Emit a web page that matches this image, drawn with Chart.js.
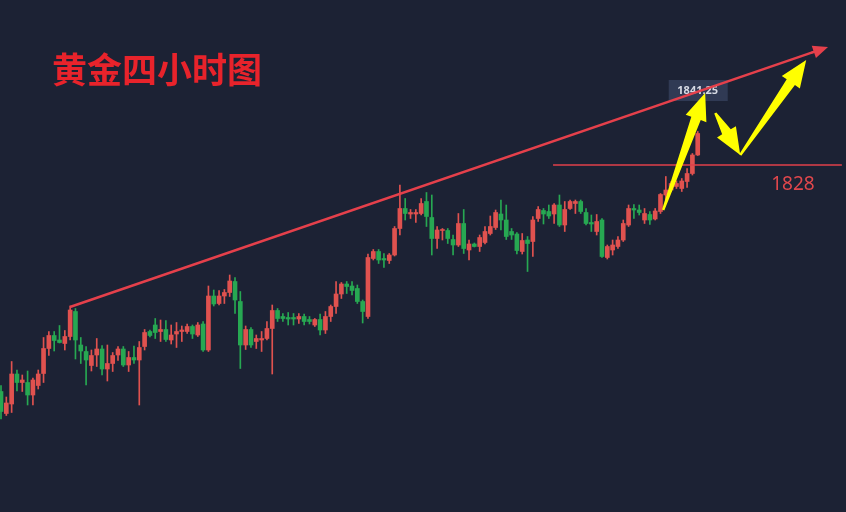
<!DOCTYPE html>
<html>
<head>
<meta charset="utf-8">
<title>黄金四小时图</title>
<script src="https://cdn.jsdelivr.net/npm/chart.js@4.4.1/dist/chart.umd.min.js"></script>
<style>
  html, body { margin: 0; padding: 0; background: #1c2234; }
  #wrap { width: 846px; height: 512px; }
</style>
</head>
<body>
<div id="wrap"><canvas id="goldChart" width="846" height="512"></canvas></div>
<script>
// CANDLE DATA (4h bars, oldest first)

const opens = [
  1782.7, 1778.3, 1780.2, 1786.2, 1784.5, 1784.5, 1782.0, 1783.9, 1786.3, 1791.3,
  1793.9, 1793.0, 1792.3, 1793.7, 1798.7, 1792.0, 1790.7, 1787.9, 1790.0, 1791.2,
  1787.2, 1788.3, 1790.0, 1791.2, 1788.0, 1789.5, 1789.0, 1791.7, 1794.7, 1796.0,
  1794.7, 1795.1, 1793.0, 1794.2, 1794.7, 1794.7, 1795.7, 1794.0, 1796.2, 1791.0,
  1801.8, 1800.3, 1801.8, 1802.5, 1804.7, 1800.7, 1792.0, 1795.1, 1792.7, 1793.0,
  1793.3, 1795.3, 1798.9, 1797.7, 1797.5, 1797.5, 1797.2, 1797.7, 1797.1, 1796.0,
  1797.1, 1795.0, 1797.7, 1799.7, 1802.2, 1804.2, 1803.8, 1803.3, 1800.7, 1797.7,
  1809.3, 1810.7, 1809.3, 1808.9, 1810.0, 1815.3, 1819.3, 1818.2, 1818.2, 1818.3,
  1820.7, 1817.5, 1813.3, 1814.9, 1814.9, 1813.1, 1812.0, 1816.3, 1811.0, 1812.2,
  1811.7, 1812.5, 1814.3, 1815.5, 1818.2, 1817.0, 1814.7, 1814.2, 1810.7, 1813.0,
  1812.7, 1817.3, 1818.9, 1818.7, 1818.2, 1820.0, 1816.0, 1819.3, 1820.3, 1820.7,
  1818.5, 1816.5, 1814.7, 1817.0, 1809.5, 1811.0, 1811.7, 1813.0, 1816.0, 1819.3,
  1819.0, 1817.0, 1818.1, 1817.2, 1818.7, 1822.0, 1823.0, 1823.7, 1823.3, 1824.7,
  1826.3, 1830.0
];
const highs = [
  1783.9, 1781.6, 1788.7, 1787.0, 1786.0, 1786.8, 1785.4, 1787.0, 1793.5, 1794.7,
  1794.7, 1795.9, 1794.9, 1799.8, 1799.3, 1793.5, 1791.7, 1791.0, 1793.3, 1791.9,
  1792.0, 1790.5, 1791.7, 1791.7, 1790.7, 1791.8, 1792.7, 1795.1, 1795.0, 1797.3,
  1797.0, 1796.9, 1796.0, 1796.5, 1795.8, 1796.2, 1796.0, 1796.5, 1796.7, 1803.8,
  1803.0, 1802.9, 1803.1, 1806.0, 1805.5, 1802.7, 1795.8, 1795.5, 1794.0, 1794.7,
  1796.7, 1800.0, 1799.3, 1798.3, 1798.5, 1798.3, 1798.3, 1798.2, 1797.7, 1797.3,
  1798.2, 1798.7, 1800.0, 1804.7, 1804.5, 1804.7, 1804.7, 1804.0, 1801.0, 1810.2,
  1811.1, 1811.1, 1810.3, 1810.3, 1815.7, 1824.0, 1821.3, 1819.1, 1819.1, 1821.3,
  1822.5, 1822.0, 1815.7, 1815.3, 1815.3, 1814.0, 1818.3, 1819.1, 1813.0, 1812.4,
  1814.0, 1815.7, 1817.8, 1819.0, 1821.0, 1820.0, 1815.3, 1814.5, 1814.3, 1813.7,
  1817.7, 1819.7, 1819.3, 1820.0, 1820.3, 1822.0, 1820.7, 1821.0, 1821.0, 1821.0,
  1819.3, 1818.0, 1818.1, 1817.3, 1812.0, 1813.0, 1813.7, 1817.0, 1820.0, 1820.1,
  1820.0, 1819.3, 1818.7, 1819.3, 1822.3, 1825.7, 1824.7, 1824.8, 1825.3, 1827.3,
  1830.3, 1834.7
];
const lows = [
  1777.2, 1777.9, 1778.5, 1782.8, 1782.7, 1780.0, 1780.0, 1783.2, 1784.5, 1789.9,
  1790.8, 1792.4, 1791.0, 1793.0, 1789.2, 1788.3, 1784.0, 1786.8, 1787.7, 1786.0,
  1784.8, 1786.7, 1788.9, 1787.7, 1786.7, 1788.3, 1780.0, 1791.0, 1793.6, 1793.3,
  1792.7, 1792.7, 1792.2, 1791.5, 1792.7, 1794.3, 1793.3, 1793.7, 1790.7, 1790.7,
  1799.8, 1800.0, 1800.3, 1801.7, 1798.3, 1787.3, 1791.1, 1791.5, 1791.3, 1790.7,
  1793.0, 1786.2, 1796.7, 1796.7, 1796.0, 1796.0, 1796.3, 1796.0, 1796.2, 1795.7,
  1794.0, 1794.3, 1796.7, 1798.3, 1801.3, 1802.3, 1802.0, 1800.3, 1796.4, 1797.3,
  1809.0, 1808.3, 1807.5, 1808.3, 1809.8, 1814.0, 1817.0, 1817.3, 1816.5, 1818.0,
  1815.7, 1810.0, 1811.3, 1813.0, 1812.3, 1810.0, 1811.7, 1810.3, 1809.0, 1811.6,
  1810.7, 1812.2, 1814.0, 1815.1, 1815.0, 1813.1, 1813.1, 1810.2, 1810.2, 1806.7,
  1809.7, 1816.7, 1816.2, 1817.3, 1816.3, 1815.7, 1814.7, 1819.1, 1818.3, 1818.3,
  1816.0, 1814.7, 1814.0, 1809.5, 1809.2, 1810.0, 1811.3, 1812.7, 1815.7, 1817.3,
  1818.0, 1816.3, 1816.1, 1817.0, 1818.3, 1820.3, 1822.7, 1823.3, 1822.7, 1823.5,
  1826.0, 1829.9
];
const closes = [
  1778.7, 1780.4, 1786.2, 1784.5, 1785.0, 1782.0, 1785.0, 1786.2, 1791.3, 1793.9,
  1792.9, 1792.5, 1793.7, 1799.0, 1793.0, 1790.8, 1789.0, 1789.9, 1791.2, 1787.2,
  1788.3, 1789.9, 1791.2, 1788.0, 1789.5, 1789.0, 1791.5, 1794.5, 1793.9, 1794.5,
  1795.1, 1793.1, 1794.0, 1794.7, 1795.0, 1795.7, 1794.2, 1796.0, 1791.0, 1801.8,
  1800.2, 1801.8, 1802.5, 1804.8, 1801.0, 1792.0, 1795.1, 1792.0, 1793.3, 1793.3,
  1795.3, 1798.9, 1797.3, 1797.3, 1797.2, 1797.2, 1797.7, 1796.7, 1796.7, 1797.1,
  1795.0, 1797.7, 1799.7, 1802.2, 1804.2, 1803.7, 1802.9, 1800.7, 1798.7, 1809.5,
  1810.7, 1809.0, 1809.0, 1810.0, 1815.3, 1819.3, 1818.3, 1818.5, 1818.5, 1820.3,
  1817.7, 1813.3, 1815.0, 1815.1, 1813.3, 1812.0, 1816.3, 1811.3, 1812.2, 1811.7,
  1813.5, 1814.7, 1815.7, 1818.5, 1817.0, 1813.7, 1814.0, 1810.9, 1812.9, 1812.3,
  1817.0, 1819.1, 1818.2, 1817.8, 1820.0, 1816.0, 1819.1, 1820.7, 1820.7, 1818.7,
  1816.3, 1816.2, 1816.7, 1809.7, 1811.7, 1812.0, 1813.0, 1816.3, 1819.3, 1819.0,
  1818.5, 1818.3, 1817.0, 1818.8, 1822.1, 1823.0, 1824.3, 1824.3, 1824.8, 1826.3,
  1830.0, 1834.3
];

// ANNOTATIONS (bar index / price)
const chartTitle = '黄金四小时图';
const supportLevel = 1828;
const supportLabel = '1828';
const supportRange = [103.8, 158.1];
const supportLabelAt = [148.9, 1824];
const priceTagText = '1841.25';
const priceTagAt = [131.0, 1842.9];
const trendStart = [12.97, 1799.6];
const trendEnd = [155.5, 1851.6];
// yellow arrows: [tailIndex, tailPrice, tipIndex, tipPrice]
const yellowArrows = [
  [124.5, 1819.0, 132.4, 1842.4],
  [134.3, 1838.4, 139.0, 1830.0],
  [139.0, 1830.0, 151.4, 1849.0]
];

const upColor = '#e0524f';
const downColor = '#27a852';
const bgColor = '#1c2234';

const idx = opens.map((_, i) => i);

function candleColor(ctx) {
  const i = ctx.dataIndex;
  return closes[i] >= opens[i] ? upColor : downColor;
}

// tapered arrow like a hand drawn marker
function drawArrow(ctx, tx, ty, px, py, w0, w1, hw, hl, color) {
  const dx = px - tx, dy = py - ty;
  const len = Math.sqrt(dx * dx + dy * dy);
  const ux = dx / len, uy = dy / len;
  const nx = -uy, ny = ux;
  const bx = px - ux * hl, by = py - uy * hl;
  ctx.beginPath();
  ctx.moveTo(tx + nx * w0, ty + ny * w0);
  ctx.lineTo(bx + nx * w1, by + ny * w1);
  ctx.lineTo(bx + nx * hw, by + ny * hw);
  ctx.lineTo(px, py);
  ctx.lineTo(bx - nx * hw, by - ny * hw);
  ctx.lineTo(bx - nx * w1, by - ny * w1);
  ctx.lineTo(tx - nx * w0, ty - ny * w0);
  ctx.closePath();
  ctx.fillStyle = color;
  ctx.fill();
}

const annotationPlugin = {
  id: 'annotations',
  beforeDraw(chart) {
    const ctx = chart.ctx;
    ctx.save();
    ctx.fillStyle = bgColor;
    ctx.fillRect(0, 0, chart.width, chart.height);
    ctx.restore();
  },
  afterDatasetsDraw(chart) {
    const ctx = chart.ctx;
    const xs = chart.scales.x, ys = chart.scales.y;
    const px = v => xs.getPixelForValue(v);
    const py = v => ys.getPixelForValue(v);
    ctx.save();

    // support line + label
    ctx.strokeStyle = '#e0404a';
    ctx.lineWidth = 1.5;
    ctx.beginPath();
    ctx.moveTo(px(supportRange[0]), py(supportLevel));
    ctx.lineTo(px(supportRange[1]), py(supportLevel));
    ctx.stroke();
    ctx.fillStyle = '#e0474c';
    ctx.font = '19px "Noto Sans", sans-serif';
    ctx.textAlign = 'center';
    ctx.textBaseline = 'middle';
    ctx.fillText(supportLabel, px(supportLabelAt[0]), py(supportLabelAt[1]));

    // price tag
    const tx = px(priceTagAt[0]), ty = py(priceTagAt[1]);
    ctx.fillStyle = '#303a54';
    ctx.fillRect(tx - 29, ty - 10.5, 59, 21);
    ctx.fillStyle = '#d6dae4';
    ctx.font = 'bold 11px "Noto Sans", sans-serif';
    ctx.fillText(priceTagText, tx, ty + 0.5);

    // trend line
    const x0 = px(trendStart[0]), y0 = py(trendStart[1]);
    const x1 = px(trendEnd[0]), y1 = py(trendEnd[1]);
    ctx.strokeStyle = '#e5404b';
    ctx.lineWidth = 2.5;
    ctx.beginPath();
    ctx.moveTo(x0, y0);
    ctx.lineTo(x1 - (x1 - x0) * 0.012, y1 - (y1 - y0) * 0.012);
    ctx.stroke();
    drawArrow(ctx, x1 - (x1 - x0) * 0.03, y1 - (y1 - y0) * 0.03, x1, y1, 0, 1.2, 6.5, 15, '#e5404b');

    // yellow arrows
    yellowArrows.forEach(a => {
      drawArrow(ctx, px(a[0]), py(a[1]), px(a[2]), py(a[3]), 1.2, 5, 11, 27, '#ffff00');
    });

    // title
    ctx.fillStyle = '#e8232b';
    ctx.font = 'bold 35px "Noto Sans CJK SC", sans-serif';
    ctx.textAlign = 'left';
    ctx.textBaseline = 'middle';
    ctx.fillText(chartTitle, 52, 70);
    ctx.restore();
  }
};

new Chart(document.getElementById('goldChart').getContext('2d'), {
  type: 'bar',
  data: {
    datasets: [
      {
        label: 'wick',
        data: idx.map(i => ({ x: i, y: [lows[i], highs[i]] })),
        backgroundColor: candleColor,
        barThickness: 1,
        grouped: false,
        order: 2
      },
      {
        label: 'body',
        data: idx.map(i => ({ x: i, y: [opens[i], closes[i]] })),
        backgroundColor: candleColor,
        barThickness: 4,
        minBarLength: 1,
        grouped: false,
        order: 1
      }
    ]
  },
  options: {
    responsive: false,
    animation: false,
    layout: { padding: 0 },
    plugins: {
      legend: { display: false },
      tooltip: { enabled: false }
    },
    scales: {
      x: { type: 'linear', min: -0.188, max: 158.88, display: false, offset: false },
      y: { min: 1758.6, max: 1861, display: false }
    }
  },
  plugins: [annotationPlugin]
});
</script>
</body>
</html>
